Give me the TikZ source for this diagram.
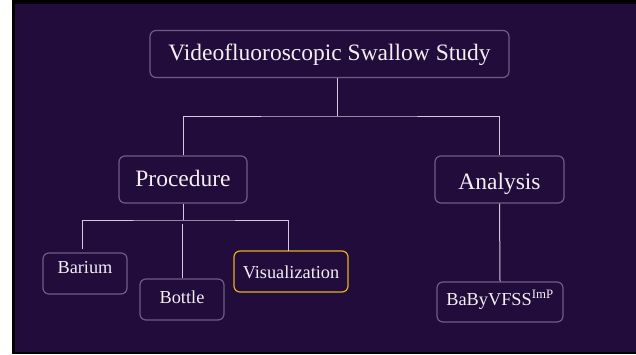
\documentclass[tikz,border=0pt]{standalone}
\usepackage{fontspec}
\setmainfont{Liberation Serif}
\definecolor{bgpurple}{HTML}{220C3B}
\definecolor{boxline}{HTML}{6E5C86}
\definecolor{conn}{HTML}{D4C8DE}
\definecolor{txt}{HTML}{F4EEF4}
\definecolor{gold}{HTML}{E6AE22}
\begin{document}
\begin{tikzpicture}[x=1pt,y=-1pt,
  boxbase/.style={draw=boxline,line width=1.2pt,rounded corners=6pt,fill=bgpurple,text=txt,inner sep=0pt,anchor=center,text height=0pt,text depth=0pt},
  bigbox/.style={boxbase,font=\fontsize{23.5}{28}\selectfont},
  leafbox/.style={boxbase,font=\fontsize{18.3}{22}\selectfont},
  goldbox/.style={leafbox,draw=gold},
  connector/.style={draw=conn,line width=1pt}]
\fill[white] (0,0) rectangle (636,354);
\fill[black] (12,0) rectangle (636,354);
\fill[bgpurple] (15,4) rectangle (636,352);
\useasboundingbox (0,0) rectangle (636,354);

\node[bigbox,minimum width=359pt,minimum height=47pt] (root) at (329.5,54) {\raisebox{-6pt}{Videofluoroscopic Swallow Study}};
\node[bigbox,minimum width=128pt,minimum height=47pt] (proc) at (183,179.5) {\raisebox{-6.5pt}{Procedure}};
\node[bigbox,minimum width=129pt,minimum height=47pt] (anal) at (499.5,179.5) {\raisebox{-9.5pt}{Analysis}};
\node[leafbox,minimum width=84pt,minimum height=41pt] (bar) at (85,273.5) {Barium};
\node[leafbox,minimum width=84pt,minimum height=41pt] (bot) at (182,299.5) {\raisebox{-3.5pt}{Bottle}};
\node[goldbox,minimum width=114pt,minimum height=41pt] (vis) at (291,271.5) {\raisebox{-6.5pt}{Visualization}};
\node[leafbox,minimum width=126pt,minimum height=40pt] (baby) at (500,302) {\raisebox{-3pt}{BaByVFSS\textsuperscript{ImP}}};

\coordinate (j1) at (337,116);
\coordinate (j2) at (183,220);
\coordinate (bt) at (82,249);
\coordinate (vt) at (288,251);
\coordinate (bo) at (182,224);

\draw[connector] (j1 |- root.south) -- (j1);
\draw[connector] (proc.north) |- (j1) -| (anal.north);
\draw[connector] (proc.south) -- (j2);
\draw[connector] (bt) |- (j2) -| (vt);
\draw[connector] (bo) -- (bot.north);
\draw[connector] (anal.south) -- (baby.north);
\end{tikzpicture}
\end{document}
